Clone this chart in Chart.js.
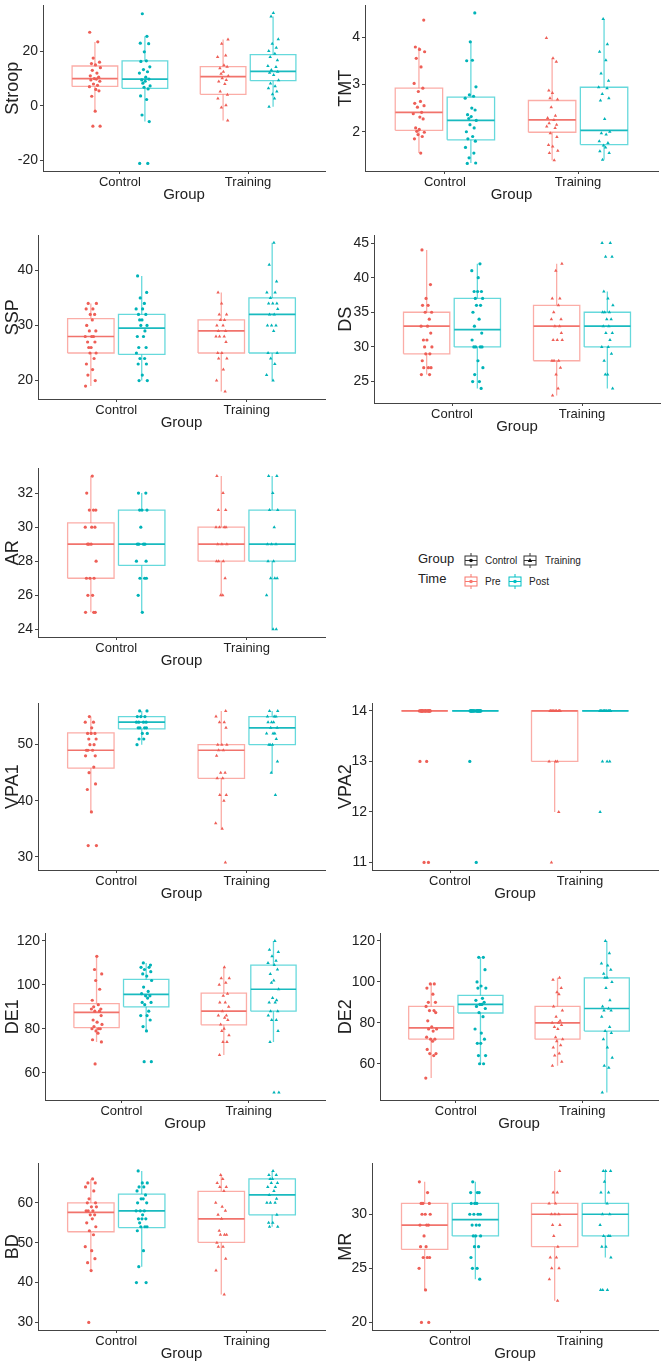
<!DOCTYPE html>
<html><head><meta charset="utf-8">
<script src="https://cdn.jsdelivr.net/npm/chart.js@4.4.0/dist/chart.umd.min.js"></script>
<style>
body{margin:0;background:#fff;width:666px;height:1365px;position:relative;overflow:hidden;font-family:"Liberation Sans",Arial,sans-serif}
canvas{position:absolute}
.lg{position:absolute;color:#222;white-space:nowrap;line-height:1}
.lt{font-size:13px}
.ll{font-size:10px}
svg{position:absolute}
</style></head><body>
<div class="lg lt" style="left:418px;top:552px">Group</div>
<div class="lg lt" style="left:418px;top:572px">Time</div>
<svg style="left:464px;top:553px" width="14" height="15"><line x1="7" y1="0" x2="7" y2="3" stroke="#333"/><line x1="7" y1="12" x2="7" y2="15" stroke="#333"/><rect x="1" y="3" width="12" height="9" fill="none" stroke="#333"/><line x1="1" y1="7.5" x2="13" y2="7.5" stroke="#333"/><circle cx="7" cy="7.5" r="1.8" fill="#111"/></svg>
<div class="lg ll" style="left:485px;top:556px">Control</div>
<svg style="left:523px;top:553px" width="14" height="15"><line x1="7" y1="0" x2="7" y2="3" stroke="#333"/><line x1="7" y1="12" x2="7" y2="15" stroke="#333"/><rect x="1" y="3" width="12" height="9" fill="none" stroke="#333"/><line x1="1" y1="7.5" x2="13" y2="7.5" stroke="#333"/><polygon points="7,5 9.2,9 4.8,9" fill="#111"/></svg>
<div class="lg ll" style="left:545px;top:556px">Training</div>
<svg style="left:464px;top:574px" width="14" height="15"><line x1="7" y1="0" x2="7" y2="3" stroke="#F8766D"/><line x1="7" y1="12" x2="7" y2="15" stroke="#F8766D"/><rect x="1" y="3" width="12" height="9" fill="none" stroke="#F8766D"/><line x1="1" y1="7.5" x2="13" y2="7.5" stroke="#F8766D"/><circle cx="7" cy="7.5" r="1.8" fill="#F8766D"/></svg>
<div class="lg ll" style="left:485px;top:577px">Pre</div>
<svg style="left:508px;top:574px" width="14" height="15"><line x1="7" y1="0" x2="7" y2="3" stroke="#00BFC4"/><line x1="7" y1="12" x2="7" y2="15" stroke="#00BFC4"/><rect x="1" y="3" width="12" height="9" fill="none" stroke="#00BFC4"/><line x1="1" y1="7.5" x2="13" y2="7.5" stroke="#00BFC4"/><circle cx="7" cy="7.5" r="1.8" fill="#00BFC4"/></svg>
<div class="lg ll" style="left:529px;top:577px">Post</div>
<script>
// ---------------- DATA ----------------
const groups = ['Control', 'Training'];
const times = ['Pre', 'Post'];
const panelNames = ['Stroop','TMT','SSP','DS','AR','VPA1','VPA2','DE1','DE2','BD','MR'];

// tick labels per panel
const stroopTicks = [-20, 0, 20];
const tmtTicks = [2, 3, 4];
const sspTicks = [20, 30, 40];
const dsTicks = [25, 30, 35, 40, 45];
const arTicks = [24, 26, 28, 30, 32];
const vpa1Ticks = [30, 40, 50];
const vpa2Ticks = [11, 12, 13, 14];
const de1Ticks = [60, 80, 100, 120];
const de2Ticks = [60, 80, 100, 120];
const bdTicks = [30, 40, 50, 60];
const mrTicks = [20, 25, 30];

// box stats [lower whisker, Q1, median, Q3, upper whisker]
// order: Control-Pre, Control-Post, Training-Pre, Training-Post
const stroopBoxes = [[-2.2,7.1,10,14.6,23.4],[-5.8,6.4,9.8,16.5,25.5],[-5.4,4.2,10.7,14.4,24.3],[-0.4,9.2,12.6,18.8,32.8]];
const tmtBoxes = [[1.55,2.03,2.41,2.92,3.79],[1.34,1.83,2.24,2.73,3.9],[1.4,1.99,2.25,2.66,3.55],[1.41,1.73,2.03,2.94,4.38]];
const sspBoxes = [[19,25,28,31.25,34],[20,24.75,29.5,32,39],[18,25,29,31,36],[20,25,32,35,45]];
const dsBoxes = [[26,29,33,35,44],[24,30,32.5,37,42],[23,28,33,36,42],[24,30,33,35,38]];
const arBoxes = [[25,27,29,30.25,33],[25,27.75,29,31,32],[26,28,29,30,33],[24,28,29,31,33]];
const vpa1Boxes = [[38,45.8,49,52.1,55],[50,52.8,54,55,56],[35,44,49,50,56],[45,50,53,55,56]];
const vpa2Boxes = [[14,14,14,14,14],[14,14,14,14,14],[12,13,14,14,14],[14,14,14,14,14]];
const de1Boxes = [[74,80.5,87.5,91.5,113],[79,90,95.7,102.5,110],[68,81.8,88,96.2,108],[74,88,98,109,120]];
const de2Boxes = [[53,72,77.5,88,99],[60,84.8,89,93.4,112],[59,72,80,88,102],[46,76,87,102,120]];
const bdBoxes = [[43,52.75,57.6,60,66],[44,53.8,58,62.2,68],[37,50.1,56,62.9,67],[54,57,62,66,68]];
const mrBoxes = [[23,26.75,29,31,33],[24,28,29.5,31,33],[22,27,30,31,34],[26,28,30,31,34]];

// individual observations
const stroopCtrlPre = [27,23.5,17.5,16,15.5,15,14,13,12,11,10.5,10,9.8,9.5,9,8,7.5,7,6,5.5,3.5,-2,-7.5,-7.5];
const stroopCtrlPost = [33.8,25.5,23,22.8,19.8,16.5,16.3,14.3,13.3,12.5,12,10.5,9.8,9.5,9,8.3,7.3,6.8,6.2,3.6,2.3,-3.4,-5.8,-21.2,-21.2];
const stroopTrainPre = [24.3,22.8,18.5,17.9,14.9,14.3,13.8,12.5,11.8,10.9,10.1,9.5,8.9,8,5.2,4,2.7,0.2,-0.6,-5.4];
const stroopTrainPost = [34.1,32.8,24.4,22.8,21.3,20.1,19.1,17.9,16.7,14.6,14.2,13.1,12.5,12.1,11.3,9.4,8.2,7.2,6.4,5.2,4.2,2.7,-0.4];

const tmtCtrlPre = [4.36,3.79,3.74,3.69,3.55,3.37,3.02,2.92,2.85,2.64,2.6,2.55,2.52,2.41,2.38,2.31,2.27,2.08,2.05,2.01,1.99,1.94,1.9,1.85,1.55];
const tmtCtrlPost = [4.51,3.9,3.51,3.5,2.95,2.78,2.75,2.71,2.5,2.46,2.36,2.32,2.28,2.24,2.15,2.08,2.0,1.9,1.85,1.8,1.67,1.55,1.45,1.34,1.33];
const tmtTrainPre = [3.98,3.55,3.48,2.87,2.82,2.71,2.68,2.52,2.34,2.29,2.25,2.18,2.15,2.11,2.08,1.97,1.89,1.72,1.69,1.6,1.55,1.4];
const tmtTrainPost = [4.38,3.85,3.69,3.51,3.23,3.08,2.94,2.92,2.8,2.71,2.66,2.27,2.0,1.97,1.94,1.8,1.76,1.71,1.67,1.59,1.55,1.41];

const sspCtrlPre = [34,34,33,33,32,32,31,30,29,29,28,28,28,27,27,26,26,25,25,24,23,22,21,20,19];
const sspCtrlPost = [39,36,35,34,33,33,32,32,31,31,30,30,29,28,28,26,26,25,24,24,23,23,21,20,20];
const sspTrainPre = [36,34,32,32,31,31,30,30,29,29,28,28,28,27,25,25,24,24,22,20,18];
const sspTrainPost = [45,41,38,36,36,35,34,34,34,33,32,32,30,30,30,29,25,25,24,23,21,20];

const dsCtrlPre = [44,39,37,36,36,35,35,34,33,33,32,31,31,30,30,29,29,28,27,27,27,26,26];
const dsCtrlPost = [42,41,40,38,38,38,37,37,36,36,35,34,33,32,31,30,30,30,30,28,27,26,25,25,24];
const dsTrainPre = [42,41,37,37,36,35,34,34,33,33,32,31,31,31,28,28,28,27,26,24,23];
const dsTrainPost = [45,45,43,43,38,37,36,35,35,35,34,34,33,33,32,32,31,30,30,29,28,26,26,24];

const arCtrlPre = [33,32,31,31,31,30,30,30,29,29,29,28,27,27,27,26,26,25,25,25];
const arCtrlPost = [32,32,31,31,31,30,29,29,29,29,28,28,27,27,27,26,25];
const arTrainPre = [33,32,31,31,30,30,30,30,29,29,29,28,28,28,27,26,26];
const arTrainPost = [33,33,32,31,31,30,29,29,29,28,28,27,27,27,26,24,24];

const vpa1CtrlPre = [55,54,54,53,52,52,52,51,51,50,50,49,49,49,48,48,46,45,43,42,38,32,32];
const vpa1CtrlPost = [56,56,55,55,55,54,54,54,54,53,53,53,53,52,52,51,51,50];
const vpa1TrainPre = [56,55,54,54,53,50,50,50,49,49,48,45,45,44,44,41,41,40,36,35,29];
const vpa1TrainPost = [56,56,55,55,55,54,54,54,53,53,52,52,52,51,50,50,50,47,45,41];

const vpa2CtrlPre = [14,14,14,14,14,14,14,14,14,14,14,14,14,14,14,14,14,14,14,14,13,13,11,11];
const vpa2CtrlPost = [14,14,14,14,14,14,14,14,14,14,14,14,14,14,14,14,14,14,14,14,14,14,13,11];
const vpa2TrainPre = [14,14,14,14,14,14,14,14,14,14,14,14,14,14,13,13,13,12,11];
const vpa2TrainPost = [14,14,14,14,14,14,14,14,14,14,14,14,14,14,14,14,14,14,13,13,13,12];

const de1CtrlPre = [113,107,105,102,98,93,91,90,89,89,88,88,86,84,83,82,81,80,80,80,79,78,75,74,64];
const de1CtrlPost = [110,109,108,108,107,106,105,104,102,99,97,96,95,95,94,92,92,91,88,86,86,84,81,79,65,65];
const de1TrainPre = [108,103,103,101,100,96,95,92,92,90,88,86,86,85,84,82,80,79,77,74,74,68];
const de1TrainPost = [120,116,115,113,111,110,109,107,105,102,101,98,94,93,92,92,88,88,86,84,84,79,74,51,51];

const de2CtrlPre = [99,99,97,94,90,90,88,86,86,85,81,78,77,77,76,73,72,72,71,67,65,65,64,53];
const de2CtrlPost = [112,112,106,100,98,97,97,92,91,90,89,89,88,87,85,83,77,75,72,70,70,64,64,60,60];
const de2TrainPre = [102,101,97,95,94,88,86,83,81,80,80,79,78,77,73,72,71,69,68,65,64,61,59];
const de2TrainPost = [120,114,109,108,106,104,102,102,100,97,91,88,87,86,86,83,78,76,75,72,68,63,59,58,46];

const bdCtrlPre = [66,65,65,64,63,61,60,60,59,59,58,58,58,57,57,56,55,54,53,52,49,48,46,45,43,30];
const bdCtrlPost = [68,65,65,64,64,63,62,61,61,60,60,58,58,58,57,56,56,56,55,54,54,54,53,48,44,40,40];
const bdTrainPre = [67,66,65,64,64,63,60,59,58,57,56,53,52,52,52,50,49,49,46,43,37];
const bdTrainPost = [68,67,67,66,66,65,65,64,64,63,62,61,60,60,60,57,55,55,54,54];

const mrCtrlPre = [33,32,31,31,31,30,30,30,29,29,29,28,27,27,26,26,26,25,23,20,20];
const mrCtrlPost = [33,32,32,32,31,31,31,30,30,30,30,29,29,29,28,28,28,27,27,26,25,25,24];
const mrTrainPre = [34,32,32,31,31,30,30,30,29,29,28,27,26,26,25,25,24,22];
const mrTrainPost = [34,34,34,33,32,32,31,30,30,29,28,28,28,27,27,26,23,23,23];

const panelTicks = [stroopTicks,tmtTicks,sspTicks,dsTicks,arTicks,vpa1Ticks,vpa2Ticks,de1Ticks,de2Ticks,bdTicks,mrTicks];
const panelBoxes = [stroopBoxes,tmtBoxes,sspBoxes,dsBoxes,arBoxes,vpa1Boxes,vpa2Boxes,de1Boxes,de2Boxes,bdBoxes,mrBoxes];
const panelPoints = [
  [stroopCtrlPre,stroopCtrlPost,stroopTrainPre,stroopTrainPost],
  [tmtCtrlPre,tmtCtrlPost,tmtTrainPre,tmtTrainPost],
  [sspCtrlPre,sspCtrlPost,sspTrainPre,sspTrainPost],
  [dsCtrlPre,dsCtrlPost,dsTrainPre,dsTrainPost],
  [arCtrlPre,arCtrlPost,arTrainPre,arTrainPost],
  [vpa1CtrlPre,vpa1CtrlPost,vpa1TrainPre,vpa1TrainPost],
  [vpa2CtrlPre,vpa2CtrlPost,vpa2TrainPre,vpa2TrainPost],
  [de1CtrlPre,de1CtrlPost,de1TrainPre,de1TrainPost],
  [de2CtrlPre,de2CtrlPost,de2TrainPre,de2TrainPost],
  [bdCtrlPre,bdCtrlPost,bdTrainPre,bdTrainPost],
  [mrCtrlPre,mrCtrlPost,mrTrainPre,mrTrainPost]
];

// ---------------- LAYOUT / STYLE ----------------
const layout = [
  {pl:43, pt:5, pr:325, pb:171, col:0},
  {pl:365, pt:5, pr:658, pb:171, col:333},
  {pl:38, pt:235, pr:325, pb:399, col:0},
  {pl:374, pt:235, pr:660, pb:403, col:333},
  {pl:38, pt:468, pr:325, pb:637, col:0},
  {pl:38, pt:703, pr:325, pb:870, col:0},
  {pl:372, pt:703, pr:658, pb:870, col:333},
  {pl:45, pt:933, pr:325, pb:1100, col:0},
  {pl:380, pt:933, pr:658, pb:1100, col:333},
  {pl:38, pt:1163, pr:325, pb:1330, col:0},
  {pl:372, pt:1163, pr:658, pb:1330, col:333}
];
const lineCol = ['rgba(248,118,109,0.6)', 'rgba(0,191,196,0.6)'];
const medCol = ['rgba(240,100,92,0.9)', 'rgba(0,178,184,0.9)'];
const ptCol = ['#EE5F57', '#00B3B8'];
const jit = [-0.9,0.5,-0.3,0.8,-0.6,0.1,0.95,-0.45,0.35,-0.8,0.65,-0.1,0.25,-0.7,0.85,-0.25,0.45,-0.95,0.15,0.7,-0.55,0.05,-0.35,0.9,-0.15,0.55,-0.75,0.3,-0.5,0.75];
const DODGE = 0.195, HW = 0.178, JW = 0.045;
const FONT = '"Liberation Sans", Arial, sans-serif';

function buildPanel(i) {
  const L = layout[i];
  const boxes = panelBoxes[i], pts = panelPoints[i], ticks = panelTicks[i];
  const cv = document.createElement('canvas');
  const top = L.pt - 10, H = (L.pb - L.pt) + 10 + 36;
  cv.width = 333; cv.height = H;
  cv.style.left = L.col + 'px'; cv.style.top = top + 'px';
  cv.style.width = '333px'; cv.style.height = H + 'px';
  document.body.appendChild(cv);

  let lo = Infinity, hi = -Infinity;
  boxes.forEach(b => { lo = Math.min(lo, b[0]); hi = Math.max(hi, b[4]); });
  pts.forEach(a => a.forEach(v => { lo = Math.min(lo, v); hi = Math.max(hi, v); }));
  const pad = (hi - lo) * 0.05;

  const pointSets = [], boxSets = [];
  for (let k = 0; k < 4; k++) {
    const g = Math.floor(k / 2), t = k % 2;
    const c = (g + 1) + (t ? DODGE : -DODGE);
    const b = boxes[k];
    const lineBase = {showLine: true, pointRadius: 0, fill: false, tension: 0, borderColor: lineCol[t], borderWidth: 1.3, borderJoinStyle: 'miter', order: 2};
    boxSets.push(Object.assign({}, lineBase, {data: [{x:c-HW,y:b[1]},{x:c+HW,y:b[1]},{x:c+HW,y:b[3]},{x:c-HW,y:b[3]},{x:c-HW,y:b[1]}]}));
    boxSets.push(Object.assign({}, lineBase, {data: [{x:c,y:b[3]},{x:c,y:b[4]}]}));
    boxSets.push(Object.assign({}, lineBase, {data: [{x:c,y:b[0]},{x:c,y:b[1]}]}));
    boxSets.push(Object.assign({}, lineBase, {borderColor: medCol[t], borderWidth: 1.7, data: [{x:c-HW,y:b[2]},{x:c+HW,y:b[2]}]}));
    pointSets.push({
      data: pts[k].map((v, j) => ({x: c + jit[(j + k * 7 + i * 3) % jit.length] * JW, y: v})),
      pointRadius: g === 0 ? 1.6 : 2.0,
      pointStyle: g === 0 ? 'circle' : 'triangle',
      backgroundColor: ptCol[t], borderWidth: 0, showLine: false, order: 1
    });
  }

  new Chart(cv, {
    type: 'scatter',
    data: {datasets: pointSets.concat(boxSets)},
    options: {
      responsive: false, animation: false, devicePixelRatio: 1, events: [],
      layout: {padding: {top: 10, left: 0, right: L.col + 333 - L.pr, bottom: 0}},
      plugins: {legend: {display: false}, tooltip: {enabled: false}},
      scales: {
        x: {
          type: 'linear', min: 0.4, max: 2.6,
          afterBuildTicks: s => { s.ticks = [{value: 1}, {value: 2}]; },
          afterFit: s => { s.height = 36; },
          ticks: {callback: v => groups[Math.round(v) - 1], color: '#222', padding: 1, font: {size: 13, family: FONT}, maxRotation: 0, autoSkip: false},
          grid: {drawOnChartArea: false, drawTicks: true, tickLength: 3, color: '#444'},
          border: {display: true, color: '#444', width: 1},
          title: {display: true, text: 'Group', color: '#222', padding: {top: 0, bottom: 3}, font: {size: 15, family: FONT}}
        },
        y: {
          type: 'linear', min: lo - pad, max: hi + pad,
          afterBuildTicks: s => { s.ticks = ticks.map(v => ({value: v})); },
          afterFit: s => { s.width = L.pl - L.col; },
          ticks: {color: '#222', padding: 2, font: {size: 14, family: FONT}},
          grid: {drawOnChartArea: false, drawTicks: true, tickLength: 3, color: '#444'},
          border: {display: true, color: '#444', width: 1},
          title: {display: true, text: panelNames[i], color: '#222', padding: {top: 2, bottom: 0}, font: {size: 18, family: FONT}}
        }
      }
    }
  });
}
for (let i = 0; i < panelNames.length; i++) buildPanel(i);
</script>
</body></html>
